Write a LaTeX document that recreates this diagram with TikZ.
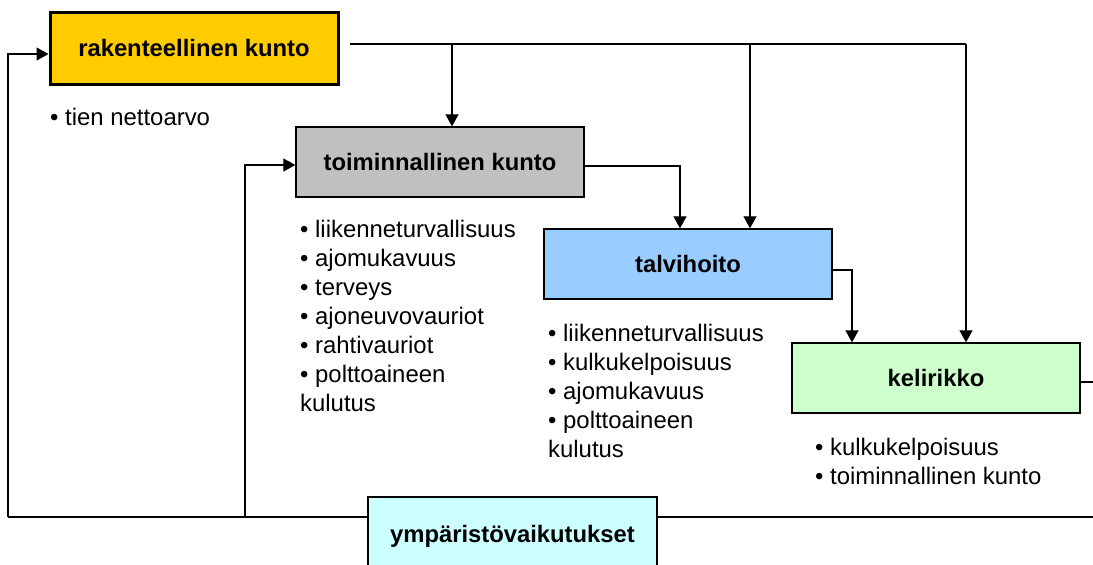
\documentclass[tikz,border=0pt]{standalone}
\usepackage{fontspec}
\setmainfont{Liberation Sans}
\usetikzlibrary{arrows.meta}
\definecolor{cRak}{HTML}{FFCC00}
\definecolor{cToim}{HTML}{C0C0C0}
\definecolor{cTalvi}{HTML}{99CCFF}
\definecolor{cKeli}{HTML}{CCFFCC}
\definecolor{cYmp}{HTML}{CCFFFF}
\tikzset{
  boxnode/.style={draw=black, line width=1.3pt, minimum width=288pt, minimum height=70pt, inner sep=0pt,
    font=\fontsize{23.8}{28}\selectfont\bfseries},
  listnode/.style={anchor=north west, inner sep=0pt, align=left, font=\fontsize{23.9}{29}\selectfont},
  conn/.style={line width=1.1pt},
  arr/.style={conn, -{Triangle[length=12pt,width=13pt]}},
}
\begin{document}
\begin{tikzpicture}[x=1pt,y=-1pt]
\useasboundingbox (0,0) rectangle (1093,565);
\clip (0,0) rectangle (1093,565);
% nodes
\node[boxnode, fill=cRak, line width=3pt, minimum height=72pt] (rak) at (194,48) {rakenteellinen kunto};
\node[boxnode, fill=cToim] (toim) at (440,162) {toiminnallinen kunto};
\node[boxnode, fill=cTalvi] (talvi) at (688,264) {talvihoito};
\node[boxnode, fill=cKeli] (keli) at (936,378) {kelirikko};
\node[boxnode, fill=cYmp, minimum width=289pt, minimum height=90pt] (ymp) at (512.5,542) {\raisebox{16pt}{ympäristövaikutukset}};
% lists
\node[listnode] (lrak) at (50,108) {• tien nettoarvo};
\node[listnode] (ltoim) at (300,220) {• liikenneturvallisuus\\• ajomukavuus\\• terveys\\• ajoneuvovauriot\\• rahtivauriot\\• polttoaineen\\kulutus};
\node[listnode] (ltalvi) at (548,324) {• liikenneturvallisuus\\• kulkukelpoisuus\\• ajomukavuus\\• polttoaineen\\kulutus};
\node[listnode] (lkeli) at (815,438) {• kulkukelpoisuus\\• toiminnallinen kunto};
% coordinates
\coordinate (rakout) at (350,44);
\coordinate (j1) at (452,44);
\coordinate (j2) at (750,44);
\coordinate (j3) at (966,44);
\coordinate (bl) at (8,517);
\coordinate (bm) at (245,517);
\coordinate (br) at (1093,517);
\coordinate (kr) at (1093,382);
\coordinate (ke) at ([yshift=-4pt]keli.east);
% connectors
\draw[conn] (rakout) -- (j3);
\draw[arr] (j1) -- (j1 |- toim.north);
\draw[arr] (j2) -- (j2 |- talvi.north);
\draw[arr] (j3) -- (j3 |- keli.north);
\draw[arr] ([yshift=-4pt]toim.east) -| ([xshift=-8pt]talvi.north);
\draw[arr] ([yshift=-6pt]talvi.east) -| ([xshift=-84pt]keli.north);
\draw[conn] (ke) -- (kr |- ke);
\draw[conn] (ymp.west |- bl) -- (bl);
\draw[arr] (bl) |- ([yshift=-6pt]rak.west);
\draw[arr] (bm) |- ([yshift=-3pt]toim.west);
\draw[conn] (ymp.east |- br) -- (br);
\end{tikzpicture}
\end{document}
